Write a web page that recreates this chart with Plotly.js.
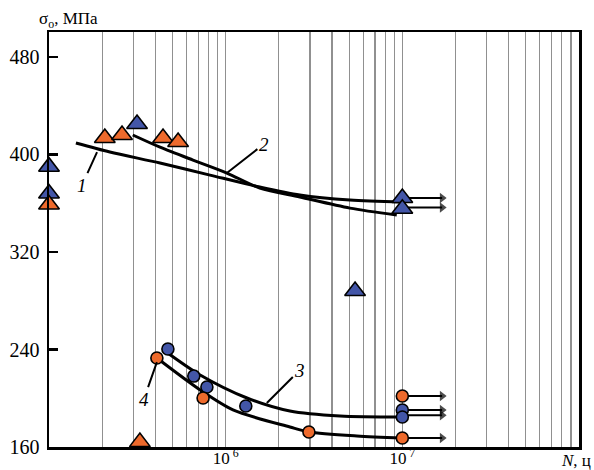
<!DOCTYPE html>
<html>
<head>
<meta charset="utf-8">
<script src="https://cdn.plot.ly/plotly-3.0.1.min.js"></script>
<style>html,body{margin:0;padding:0;background:#fff;}</style>
</head>
<body>
<div id="chart" style="width:594px;height:470px;"></div>
<script>
// ---- data (N cycles, sigma MPa) ----
const triBlueN = [1e5, 1e5, 3.15e5, 5.4e6, 1e7, 1e7];
const triBlueS = [390, 368, 425, 288, 364.3, 355.5];
const triOrangeN = [1e5, 2.07e5, 2.59e5, 4.42e5, 5.38e5, 3.27e5];
const triOrangeS = [359, 413.5, 416, 413.5, 410.2, 164];
const circBlueN = [4.71e5, 6.6e5, 7.83e5, 1.30e6, 1e7, 1e7];
const circBlueS = [240.4, 218.2, 209.2, 193.6, 190.4, 184.6];
const circOrangeN = [4.08e5, 7.45e5, 2.96e6, 1e7, 1e7];
const circOrangeS = [233, 200.2, 172.3, 201.8, 167.4];

const curve1N = [1.42e5, 2.21e5, 4.25e5, 8.15e5, 1.56e6, 2.63e6, 5.05e6, 1e7];
const curve1S = [409.4, 402.0, 393.0, 383.1, 373.3, 366.7, 362.6, 361.0];
const curve2N = [2.98e5, 4.25e5, 6.53e5, 1.016e6, 1.56e6, 2.63e6, 5.05e6, 9.3e6];
const curve2S = [416.0, 406.0, 395.4, 384.8, 372.5, 365.1, 356.0, 350.3];
const curve3N = [4.53e5, 7.17e5, 1.32e6, 2.31e6, 4.44e6, 1e7];
const curve3S = [238.8, 219.1, 200.2, 189.5, 185.4, 184.6];
const curve4N = [4.08e5, 7.17e5, 1.10e6, 2.31e6, 2.96e6, 5.53e6, 1e7];
const curve4S = [233.0, 206.8, 190.4, 176.4, 172.3, 169.0, 167.4];

const runoutStartN = 1e7;
const runoutEndN = 1.68e7;
const runoutS = [364.3, 356.5, 201.8, 190.4, 186.0, 167.4];

const curveLabels = ['1', '2', '3', '4'];
const labelPointN = [1.87e5, 1.016e6, 1.71e6, 4.08e5];
const labelPointS = [402.0, 384.8, 196.1, 229.7];

const yTicks = [160, 240, 320, 400, 480];
const xLabelVals = [1e6, 1e7];
const xLabelText = ['10<sup> 6</sup>', '10<sup> 7</sup>'];
const decades = [1e5, 1e6, 1e7];

// ---- build ----
const ORANGE = '#ee6a2c';
const BLUE = '#4356a8';
const SERIF = '"Liberation Serif", "Times New Roman", serif';

const gridVals = [];
decades.forEach(d => {
  for (let k = 2; k <= 9; k++) gridVals.push(d * k);
});

const traces = [];
function curve(xs, ys) {
  traces.push({x: xs, y: ys, mode: 'lines', type: 'scatter',
    line: {color: '#000', width: 3, shape: 'spline', smoothing: 0.8},
    hoverinfo: 'skip', showlegend: false});
}
curve(curve1N, curve1S);
curve(curve2N, curve2S);
curve(curve3N, curve3S);
curve(curve4N, curve4S);

runoutS.forEach(s => {
  traces.push({x: [runoutStartN, runoutEndN], y: [s, s], type: 'scatter',
    mode: 'lines+markers', cliponaxis: false,
    line: {color: '#000', width: 2},
    marker: {symbol: 'triangle-right', size: [0, 9], color: '#000', line: {width: 0}},
    showlegend: false, hoverinfo: 'skip'});
});

function pts(xs, ys, sym, color, size) {
  traces.push({x: xs, y: ys, type: 'scatter', mode: 'markers', cliponaxis: false,
    marker: {symbol: sym, size: size, color: color, line: {color: '#000', width: 1.6}},
    showlegend: false});
}
pts(triBlueN, triBlueS, 'triangle-up', BLUE, 18);
pts(triOrangeN, triOrangeS, 'triangle-up', ORANGE, 18);
pts(circBlueN, circBlueS, 'circle', BLUE, 12);
pts(circOrangeN, circOrangeS, 'circle', ORANGE, 12);

const labelOffsets = [[-15, 33], [37, -29], [33, -33], [-13, 37]];
const annotations = curveLabels.map((t, i) => ({
  x: Math.log10(labelPointN[i]), y: labelPointS[i], xref: 'x', yref: 'y',
  text: '<i>' + t + '</i>', showarrow: true, arrowhead: 0, arrowwidth: 2,
  arrowcolor: '#000', ax: labelOffsets[i][0], ay: labelOffsets[i][1],
  font: {family: SERIF, size: 19, color: '#000'}
}));
annotations.push({xref: 'paper', yref: 'paper', x: 0.097, y: 1.03,
  xanchor: 'right', yanchor: 'middle', showarrow: false,
  text: 'σ<sub>o</sub>, МПа', font: {family: SERIF, size: 17, color: '#000'}});
annotations.push({xref: 'paper', yref: 'paper', x: 1.026, y: -0.033,
  xanchor: 'right', yanchor: 'middle', showarrow: false,
  text: '<i>N</i>, ц', font: {family: SERIF, size: 17, color: '#000'}});

const layout = {
  width: 594, height: 470,
  margin: {l: 49, r: 15, t: 32, b: 23},
  paper_bgcolor: '#fff', plot_bgcolor: '#fff',
  showlegend: false,
  xaxis: {type: 'log', range: [5, 8], tickmode: 'array',
    tickvals: xLabelVals, ticktext: xLabelText, ticks: '',
    showgrid: true, gridcolor: '#909090', gridwidth: 1.2,
    minor: {tickmode: 'array', tickvals: gridVals, showgrid: true,
      gridcolor: '#909090', gridwidth: 1.2, ticks: ''},
    showline: true, linecolor: '#000', linewidth: 2.5, mirror: true,
    zeroline: false, ticklabelstandoff: -6,
    tickfont: {family: SERIF, size: 17, color: '#000'}},
  yaxis: {range: [160, 500.5], tickmode: 'array', tickvals: yTicks,
    ticks: 'inside', ticklen: 9, tickwidth: 2.5, tickcolor: '#000',
    showgrid: false, showline: true, linecolor: '#000', linewidth: 2.5,
    mirror: true, zeroline: false, ticklabelstandoff: 3,
    tickfont: {family: SERIF, size: 20, color: '#000'}},
  annotations: annotations
};

Plotly.newPlot('chart', traces, layout, {staticPlot: true, displayModeBar: false});
</script>
</body>
</html>
